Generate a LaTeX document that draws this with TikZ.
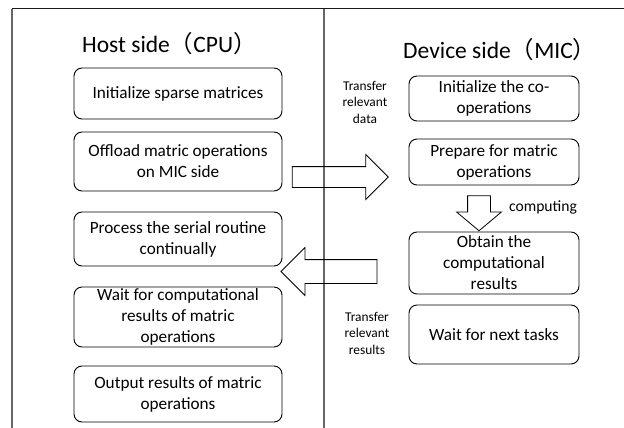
\documentclass[tikz,border=0pt]{standalone}
\usepackage{fontspec}
\setmainfont{Carlito}
\newfontfamily\cjk{Noto Sans CJK SC}
\usetikzlibrary{shapes.arrows}

\begin{document}
\begin{tikzpicture}[x=1pt,y=-1pt,
	taskbox/.style={draw, rounded corners=8pt, line width=0.9pt, align=center, inner sep=0pt,
		font=\fontsize{17.2}{21}\selectfont},
	hostbox/.style={taskbox, minimum width=208pt},
	micbox/.style={taskbox, minimum width=170pt},
	sidetitle/.style={anchor=west, inner sep=0pt, font=\fontsize{23.5}{28}\selectfont},
	note/.style={align=center, font=\fontsize{13.4}{16.5}\selectfont},
	blockarrow/.style={draw, single arrow, line width=0.8pt, inner sep=0pt, single arrow head indent=0pt}]
	\useasboundingbox (0,0) rectangle (624,428);
	\draw [black!60, line width=1.5pt] (12,428) -- (12,9.5);
	\draw [black!60, line width=1.3pt] (324,9) -- (324,428);
	\draw [black!90, line width=1pt] (11.5,9) -- (624,9);

	\node[sidetitle] (host) at (82,44) {Host side{\cjk （}CPU{\cjk ）}};
	\node[sidetitle] (device) at (403,50) {Device side{\cjk （}MIC{\cjk ）}};

	\node[hostbox, minimum height=51pt] (init) at (178,93.5) {Initialize sparse matrices};
	\node[hostbox, minimum height=59pt] (offload) at (178,161.5) {Offload matric operations\\on MIC side};
	\node[hostbox, minimum height=54pt] (serial) at (178,239) {Process the serial routine\\continually};
	\node[hostbox, minimum height=60pt] (wait) at (178,317) {Wait for computational\\results of matric\\operations};
	\node[hostbox, minimum height=56pt] (output) at (178,394) {Output results of matric\\operations};

	\node[micbox, minimum height=45pt] (coinit) at (494,98.5) {Initialize the co-\\operations};
	\node[micbox, minimum height=46pt] (prepare) at (494,162) {Prepare for matric\\operations};
	\node[micbox, minimum height=62pt] (obtain) at (494,263) {Obtain the\\computational\\results};
	\node[micbox, minimum height=59pt] (next) at (494,334.5) {Wait for next tasks};

	\node[note] (senddata) at (365,102) {Transfer\\relevant\\data};
	\node[note] (sendback) at (367,333) {Transfer\\relevant\\results};
	\node[font=\fontsize{15.6}{19}\selectfont] (computing) at (543,207) {computing};

	\node[blockarrow, minimum height=96pt, minimum width=44pt, inner ysep=10pt,
		single arrow head extend=12pt] (toMIC) at (335,177) {};
	\node[blockarrow, minimum height=96pt, minimum width=47pt, inner ysep=11.5pt,
		single arrow head extend=12pt, rotate=180] (toHost) at (335,271.5) {};
	\node[blockarrow, minimum height=35pt, minimum width=44pt, inner ysep=11pt,
		single arrow head extend=11pt, single arrow tip angle=100, rotate=-90] (compute) at (479,208.5) {};
\end{tikzpicture}
\end{document}
